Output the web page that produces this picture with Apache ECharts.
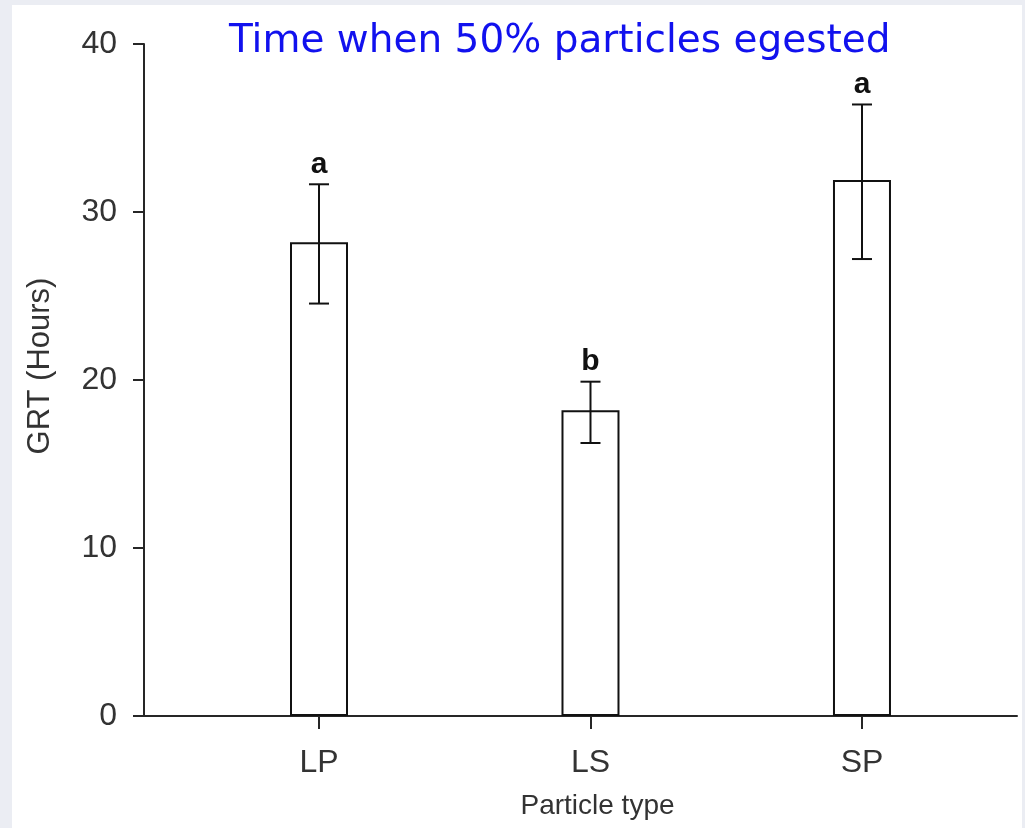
<!DOCTYPE html>
<html>
<head>
<meta charset="utf-8">
<script src="https://cdn.jsdelivr.net/npm/echarts@6/dist/echarts.min.js"></script>
<style>
  html, body { margin: 0; padding: 0; width: 1025px; height: 828px; background: #ebedf3; overflow: hidden; }
  #panel { position: absolute; left: 12px; top: 5px; width: 1010px; height: 823px; background: #ffffff; }
  #chart { position: absolute; left: 0; top: 0; width: 1025px; height: 828px; }
</style>
</head>
<body>
<div id="panel"></div>
<div id="chart"></div>
<script>
// ---- data ----
const titleText = 'Time when 50% particles egested';
const categories = ['LP', 'LS', 'SP'];
const means = [28.2, 18.2, 31.9];
const errLow = [24.55, 16.25, 27.2];
const errHigh = [31.65, 19.9, 36.4];
const sigLetters = ['a', 'b', 'a'];
const yTicks = [0, 10, 20, 30, 40];
const yName = 'GRT (Hours)';
const xName = 'Particle type';

const positions = categories.map((c, i) => i + 1);
const barData = positions.map((p, i) => [p, means[i]]);
const errData = positions.map((p, i) => [p, errLow[i], errHigh[i]]);

const tickFont = '"Liberation Sans", Arial, sans-serif';
const axisColor = '#262626';

const chart = echarts.init(document.getElementById('chart'), null, { renderer: 'canvas' });

const option = {
  backgroundColor: 'transparent',
  animation: false,
  title: {
    text: titleText,
    left: 224,
    top: 17,
    textStyle: {
      fontFamily: '"Comic Sans MS", "DejaVu Sans", sans-serif',
      fontSize: 39,
      fontWeight: 'normal',
      color: '#1111ee'
    }
  },
  grid: { left: 144, right: 8, top: 44, bottom: 112, containLabel: false },
  xAxis: {
    type: 'value',
    min: 0.3554,
    max: 3.571,
    name: xName,
    nameLocation: 'middle',
    nameGap: 76,
    nameTextStyle: {
      fontFamily: '"Liberation Sans", Arial, sans-serif',
      fontSize: 28,
      color: '#333333',
      padding: [0, 0, 0, 34]
    },
    axisLine: { show: true, lineStyle: { color: axisColor, width: 2 } },
    axisTick: { show: true, customValues: positions, length: 13, lineStyle: { color: axisColor, width: 2 } },
    axisLabel: {
      customValues: positions,
      formatter: v => categories[Math.round(v) - 1] || '',
      margin: 31,
      fontFamily: tickFont,
      fontSize: 32,
      color: '#333333'
    },
    splitLine: { show: false }
  },
  yAxis: {
    type: 'value',
    min: 0,
    max: 40,
    interval: 10,
    name: yName,
    nameLocation: 'middle',
    nameGap: 88,
    nameTextStyle: {
      fontFamily: '"Liberation Sans", Arial, sans-serif',
      fontSize: 31,
      color: '#333333',
      padding: [0, 0, 0, 28]
    },
    axisLine: { show: true, lineStyle: { color: axisColor, width: 2 } },
    axisTick: { show: true, length: 11, lineStyle: { color: axisColor, width: 2 } },
    axisLabel: {
      margin: 27,
      fontFamily: tickFont,
      fontSize: 32,
      color: '#333333',
      formatter: v => (yTicks.indexOf(v) >= 0 ? String(v) : '')
    },
    splitLine: { show: false }
  },
  series: [
    {
      type: 'bar',
      data: barData,
      barWidth: 58,
      itemStyle: { color: '#ffffff', borderColor: '#111111', borderWidth: 2 },
      z: 2
    },
    {
      type: 'custom',
      data: errData,
      z: 3,
      renderItem: function (params, api) {
        const x = api.value(0);
        const lo = api.coord([x, api.value(1)]);
        const hi = api.coord([x, api.value(2)]);
        const cap = 10;
        const style = { stroke: '#111111', lineWidth: 2 };
        return {
          type: 'group',
          children: [
            { type: 'line', shape: { x1: hi[0], y1: hi[1], x2: lo[0], y2: lo[1] }, style: style },
            { type: 'line', shape: { x1: hi[0] - cap, y1: hi[1], x2: hi[0] + cap, y2: hi[1] }, style: style },
            { type: 'line', shape: { x1: lo[0] - cap, y1: lo[1], x2: lo[0] + cap, y2: lo[1] }, style: style },
            {
              type: 'text',
              style: {
                text: sigLetters[params.dataIndex],
                x: hi[0],
                y: hi[1] - 20,
                align: 'center',
                verticalAlign: 'middle',
                font: 'bold 30px "Liberation Sans", Arial, sans-serif',
                fill: '#111111'
              }
            }
          ]
        };
      }
    }
  ]
};

chart.setOption(option);
</script>
</body>
</html>
